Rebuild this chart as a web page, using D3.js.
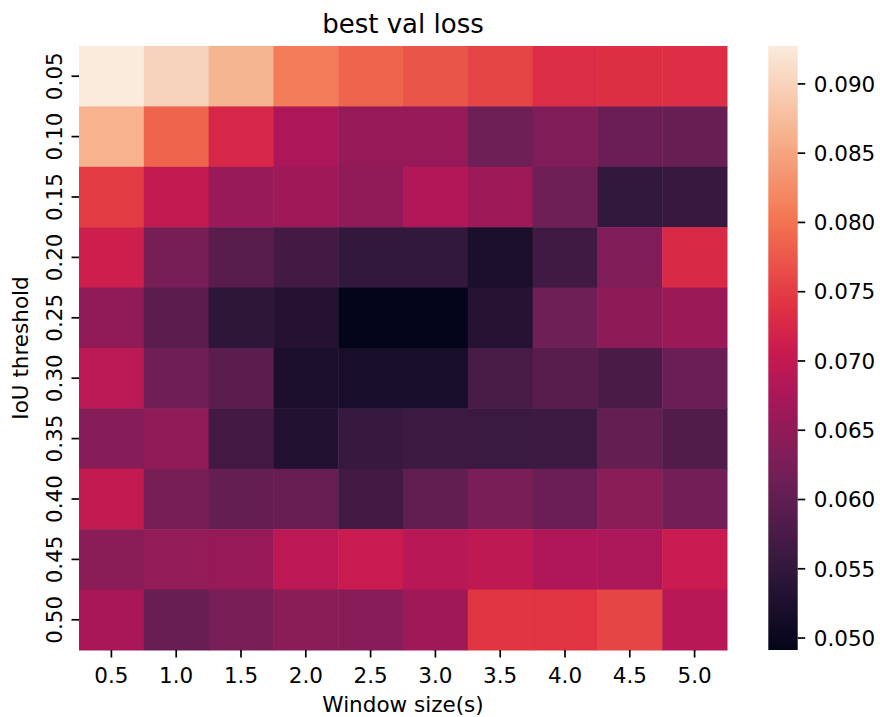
<!DOCTYPE html>
<html>
<head>
<meta charset="utf-8">
<script src="https://cdn.jsdelivr.net/npm/d3@7/dist/d3.min.js"></script>
<style>
  html, body { margin: 0; padding: 0; background: #ffffff; }
  svg { display: block; font-family: "DejaVu Sans", sans-serif; }
</style>
</head>
<body>
<svg id="chart" width="880" height="717"></svg>
<script>
// Window sizes (columns) and IoU thresholds (rows)
const windowSizes = ["0.5", "1.0", "1.5", "2.0", "2.5", "3.0", "3.5", "4.0", "4.5", "5.0"];
const iouThresholds = ["0.05", "0.10", "0.15", "0.20", "0.25", "0.30", "0.35", "0.40", "0.45", "0.50"];

// Best validation loss, one row per IoU threshold
const loss005 = [0.0927, 0.0900, 0.0866, 0.0809, 0.0786, 0.0772, 0.0757, 0.0732, 0.0735, 0.0734];
const loss010 = [0.0864, 0.0786, 0.0725, 0.0678, 0.0654, 0.0654, 0.0613, 0.0632, 0.0610, 0.0606];
const loss015 = [0.0748, 0.0701, 0.0656, 0.0664, 0.0649, 0.0683, 0.0662, 0.0613, 0.0550, 0.0555];
const loss020 = [0.0713, 0.0624, 0.0590, 0.0567, 0.0550, 0.0550, 0.0522, 0.0565, 0.0632, 0.0728];
const loss025 = [0.0649, 0.0592, 0.0545, 0.0533, 0.0492, 0.0491, 0.0535, 0.0612, 0.0645, 0.0660];
const loss030 = [0.0692, 0.0614, 0.0593, 0.0522, 0.0519, 0.0518, 0.0573, 0.0590, 0.0574, 0.0610];
const loss035 = [0.0638, 0.0649, 0.0568, 0.0529, 0.0555, 0.0561, 0.0560, 0.0562, 0.0603, 0.0584];
const loss040 = [0.0701, 0.0624, 0.0603, 0.0606, 0.0568, 0.0601, 0.0626, 0.0610, 0.0642, 0.0618];
const loss045 = [0.0642, 0.0650, 0.0655, 0.0693, 0.0707, 0.0689, 0.0697, 0.0681, 0.0677, 0.0707];
const loss050 = [0.0674, 0.0605, 0.0626, 0.0642, 0.0639, 0.0664, 0.0742, 0.0741, 0.0757, 0.0689];
const lossRows = [loss005, loss010, loss015, loss020, loss025, loss030, loss035, loss040, loss045, loss050];

// Colorbar tick values
const colorbarTicks = [0.050, 0.055, 0.060, 0.065, 0.070, 0.075, 0.080, 0.085, 0.090];

// "rocket" colormap control colours and their positions
const rocketPos = [0, 1 / 7, 2 / 7, 3 / 7, 0.5, 4 / 7, 5 / 7, 6 / 7, 1];
const rocketStops = ["#03051a", "#35193e", "#701f57", "#ad1759", "#cb1b4f", "#e13342", "#f37651", "#f6b48f", "#faebdd"];

const cells = [];
lossRows.forEach((row, i) => row.forEach((v, j) => {
  cells.push({ iou: iouThresholds[i], win: windowSizes[j], value: v });
}));

const svg = d3.select("#chart");
const plot = { left: 79, right: 727, top: 46, bottom: 650 };
const fontSize = 21.5;

const x = d3.scaleBand().domain(windowSizes).range([plot.left, plot.right]);
const y = d3.scaleBand().domain(iouThresholds).range([plot.top, plot.bottom]);

const [vmin, vmax] = d3.extent(cells, d => d.value);
const rocket = d3.scaleLinear()
  .domain(rocketPos)
  .range(rocketStops)
  .interpolate(d3.interpolateRgb)
  .clamp(true);
const color = v => rocket((v - vmin) / (vmax - vmin));

// Heatmap cells
svg.append("g")
  .selectAll("rect")
  .data(cells)
  .join("rect")
  .attr("x", d => x(d.win))
  .attr("y", d => y(d.iou))
  .attr("width", x.bandwidth() + 0.5)
  .attr("height", y.bandwidth() + 0.5)
  .attr("fill", d => color(d.value));

// X axis
const xAxis = svg.append("g")
  .attr("transform", `translate(0,${plot.bottom})`)
  .call(d3.axisBottom(x).tickSize(7.5).tickSizeOuter(0));
xAxis.select(".domain").remove();
xAxis.selectAll(".tick line").attr("stroke", "#000").attr("stroke-width", 1.7);
xAxis.selectAll(".tick text")
  .attr("y", 33).attr("dy", null)
  .attr("fill", "#000")
  .style("font-size", fontSize + "px")
  .style("font-family", "DejaVu Sans, sans-serif");

// Y axis with rotated tick labels
const yAxis = svg.append("g")
  .attr("transform", `translate(${plot.left},0)`)
  .call(d3.axisLeft(y).tickSize(7.5).tickSizeOuter(0));
yAxis.select(".domain").remove();
yAxis.selectAll(".tick line").attr("stroke", "#000").attr("stroke-width", 1.7);
yAxis.selectAll(".tick text")
  .attr("x", null).attr("dy", null)
  .attr("text-anchor", "middle")
  .attr("transform", "translate(-17.3,0) rotate(-90)")
  .attr("fill", "#000")
  .style("font-size", fontSize + "px")
  .style("font-family", "DejaVu Sans, sans-serif");

// Axis titles
svg.append("text")
  .attr("x", (plot.left + plot.right) / 2)
  .attr("y", 712)
  .attr("text-anchor", "middle")
  .style("font-size", fontSize + "px")
  .text("Window size(s)");

svg.append("text")
  .attr("transform", `translate(28.3,${(plot.top + plot.bottom) / 2}) rotate(-90)`)
  .attr("text-anchor", "middle")
  .style("font-size", fontSize + "px")
  .text("IoU threshold");

svg.append("text")
  .attr("x", (plot.left + plot.right) / 2)
  .attr("y", 33)
  .attr("text-anchor", "middle")
  .style("font-size", "26px")
  .text("best val loss");

// Colorbar
const cb = { left: 768.3, width: 29.4 };
const cbScale = d3.scaleLinear().domain([vmin, vmax]).range([plot.bottom, plot.top]);

const grad = svg.append("defs").append("linearGradient")
  .attr("id", "cbGrad")
  .attr("x1", 0).attr("y1", 1).attr("x2", 0).attr("y2", 0);
grad.selectAll("stop")
  .data(d3.range(0, 1.0001, 1 / 64))
  .join("stop")
  .attr("offset", t => t)
  .attr("stop-color", t => rocket(t));

svg.append("rect")
  .attr("x", cb.left)
  .attr("y", plot.top)
  .attr("width", cb.width)
  .attr("height", plot.bottom - plot.top)
  .attr("fill", "url(#cbGrad)");

const cbAxis = svg.append("g")
  .attr("transform", `translate(${cb.left + cb.width},0)`)
  .call(d3.axisRight(cbScale).tickValues(colorbarTicks).tickFormat(d3.format(".3f")).tickSize(7.5).tickSizeOuter(0));
cbAxis.select(".domain").remove();
cbAxis.selectAll(".tick line").attr("stroke", "#000").attr("stroke-width", 1.7);
cbAxis.selectAll(".tick text")
  .attr("x", 16).attr("dy", "0.36em")
  .attr("fill", "#000")
  .style("font-size", fontSize + "px")
  .style("font-family", "DejaVu Sans, sans-serif");
</script>
</body>
</html>
